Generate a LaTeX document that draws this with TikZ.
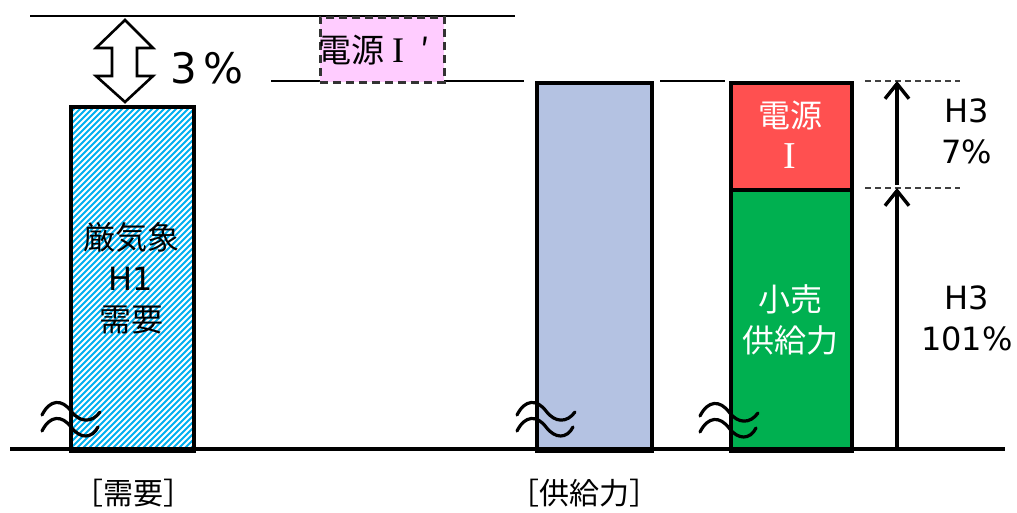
\documentclass[tikz,border=0pt]{standalone}
\usepackage{fontspec}
\setmainfont{DejaVu Sans}
\newfontfamily\jp{Noto Sans CJK JP}
\newfontfamily\ser{Liberation Serif}
\usetikzlibrary{arrows.meta}
\definecolor{pinkbox}{RGB}{255,204,255}
\definecolor{redbar}{RGB}{255,80,80}
\definecolor{greenbar}{RGB}{0,176,80}
\definecolor{greybar}{RGB}{180,194,226}
\definecolor{hatchblue}{RGB}{0,176,240}
\tikzset{
  bar/.style={draw=black,line width=3.5pt,inner sep=0pt,anchor=north west},
  lbl/.style={align=center,inner sep=0pt,font=\fontsize{32}{41}\selectfont},
  wave/.style={line width=3.2pt,line cap=round},
  guide/.style={line width=2.4pt},
  dguide/.style={line width=1.6pt,dash pattern=on 6pt off 4pt,black!75},
  uparrow/.style={line width=3.6pt,-{Straight Barb[length=15pt,width=24pt,line width=3.4pt]}},
}
\newcommand{\wavesym}[2]{%
  \draw[wave] (#1,#2) .. controls (#1+8,#2-16) and (#1+20,#2-16) .. (#1+29,#2-4)
     .. controls (#1+38,#2+8) and (#1+50,#2+8) .. (#1+58,#2-3);
  \draw[wave] (#1,#2+16) .. controls (#1+8,#2) and (#1+20,#2) .. (#1+29,#2+12)
     .. controls (#1+38,#2+24) and (#1+50,#2+24) .. (#1+56,#2+12);
}
\begin{document}
\begin{tikzpicture}[x=1pt,y=-1pt]
\useasboundingbox (0,0) rectangle (1017,512);
% guide lines
\coordinate (t1) at (30,16);  \coordinate (t2) at (515,16);
\coordinate (m1) at (271,81); \coordinate (m2) at (524,81);
\coordinate (s1) at (660,81); \coordinate (s2) at (725,81);
\draw[guide] (t1) -- (t2);
\draw[guide] (m1) -- (m2);
\draw[guide] (s1) -- (s2);
% dashed pink box
\node[draw=black!80,fill=pinkbox,line width=2.8pt,dash pattern=on 8pt off 5pt,
      minimum width=124pt,minimum height=65pt,inner sep=0pt,anchor=north west] (pbox) at (319,16) {};
\node[lbl,font=\jp\fontsize{33}{36}\selectfont,anchor=west] (ptext) at (318,50)
  {電源\hspace{8pt}{\ser\fontsize{36}{36}\selectfont I}\hspace{16pt}′};
% double arrow
\draw[line width=2.6pt,fill=white,line join=miter]
  (125,20) -- (153,48) -- (137,48) -- (137,76) -- (153,76) -- (125,102)
  -- (96,76) -- (112,76) -- (112,48) -- (96,48) -- cycle;
\node[lbl,font=\fontsize{42}{44}\selectfont,anchor=west] (pct) at (170,68) {3\,\%};
% hatched demand bar
\begin{scope}
  \clip (69,105) rectangle (192,449);
  \foreach \x in {-290,-284,...,200} {
    \draw[hatchblue,line width=1.8pt] (\x,455) -- (\x+350,105);
  }
\end{scope}
\node[bar,minimum width=123pt,minimum height=344pt] (dem) at (69,105) {};
\node[lbl] (demtxt) at (131,278) {{\jp 厳気象}\\H1\\{\jp 需要}};
% supply bar
\node[bar,fill=greybar,minimum width=115pt,minimum height=368pt] (sup) at (535,81) {};
% red and green
\node[bar,fill=greenbar,minimum width=121pt,minimum height=261pt] (grn) at (729,188) {};
\node[bar,fill=redbar,minimum width=121pt,minimum height=107pt] (red) at (729,81) {};
\node[lbl,text=white] (redtxt) at (790,135) {{\jp 電源}\\{\ser\fontsize{38}{41}\selectfont I}};
\node[lbl,text=white] (grntxt) at (790,320) {{\jp 小売}\\{\jp 供給力}};
% dashed guides and arrows
\coordinate (d1a) at (865,81);  \coordinate (d1b) at (960,81);
\coordinate (d2a) at (865,188); \coordinate (d2b) at (960,188);
\draw[dguide] (d1a) -- (d1b);
\draw[dguide] (d2a) -- (d2b);
\coordinate (a0) at (897,449); \coordinate (a1) at (897,188); \coordinate (a2) at (897,81);
\coordinate (a1s) at (897,185);
\draw[uparrow] (a0) -- (a1);
\draw[uparrow] (a1s) -- (a2);
\node[lbl] (h7) at (967,131) {H3\\7\%};
\node[lbl] (h101) at (967,318) {H3\\101\%};
% waves
\wavesym{42}{415}
\wavesym{517}{415}
\wavesym{700}{416}
% baseline
\coordinate (b1) at (10,449); \coordinate (b2) at (1005,449);
\draw[line width=3.5pt] (b1) -- (b2);
% bottom labels
\node[lbl,font=\jp\fontsize{30}{32}\selectfont] (ldem) at (133,493) {［需要］};
\node[lbl,font=\jp\fontsize{30}{32}\selectfont] (lsup) at (584,493) {［供給力］};
\end{tikzpicture}
\end{document}
